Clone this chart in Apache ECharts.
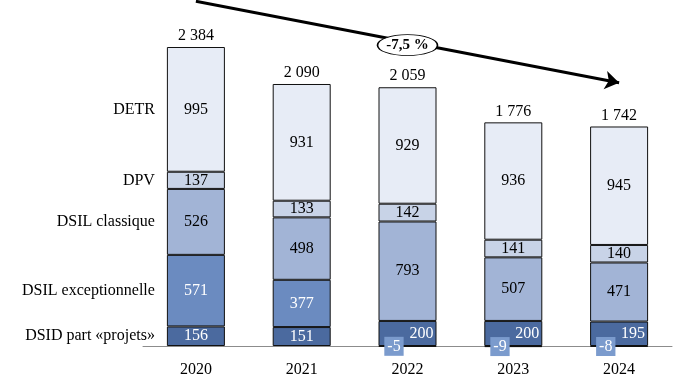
<!DOCTYPE html>
<html><head><meta charset="utf-8">
<script src="https://cdn.jsdelivr.net/npm/echarts@6/dist/echarts.min.js"></script>
<style>html,body{margin:0;padding:0;background:#fff}#c{width:682px;height:392px}</style>
</head><body><div id="c"></div>
<script>
const years = ['2020','2021','2022','2023','2024'];
const seriesNames = ['DSID part «projets»','DSIL exceptionnelle','DSIL classique','DPV','DETR'];
const dsid = [156,151,200,200,195];
const dsilExc = [571,377,-5,-9,-8];
const dsilCla = [526,498,793,507,471];
const dpv = [137,133,142,141,140];
const detr = [995,931,929,936,945];
const totals = [2384,2090,2059,1776,1742];
const trendLabel = '-7,5 %';

const values = [dsid, dsilExc, dsilCla, dpv, detr];
const colors = ['#4b6a9f','#6b8bc0','#a2b4d6','#c8d3e7','#e7ecf6'];
const textColors = ['#fff','#fff','#000','#000','#000'];
const FONT = '"Liberation Serif", "DejaVu Serif", serif';

function fmt(n){ return String(n).replace(/\B(?=(\d{3})+(?!\d))/g,' '); }

const series = [];
values.forEach((arr, si) => {
  series.push({
    name: seriesNames[si], type: 'bar', stack: 'a', barWidth: 58, barGap: '-100%', clip: false,
    itemStyle: { color: colors[si], borderColor: '#111', borderWidth: 1 },
    data: arr.map((v, i) => {
      const item = { value: v };
      if (v < 0) {
        item.label = { show: true, position: 'insideLeft', distance: 6, color: '#fff',
          backgroundColor: '#7b9bcd', padding: [2, 3, 1, 3], formatter: String(v) };
      } else if (si === 0 && dsilExc[i] < 0) {
        item.label = { show: true, position: 'insideRight', distance: 3 };
      }
      return item;
    }),
    label: { show: true, position: 'inside', color: textColors[si], fontFamily: FONT, fontSize: 16 }
  });
});
// totals on top of stack
series.push({
  name: 'total', type: 'bar', stack: 'a', barWidth: 58, barGap: '-100%',
  itemStyle: { color: 'transparent', borderWidth: 0 },
  data: totals.map(() => 0),
  label: { show: true, position: 'top', distance: 3, color: '#000', fontFamily: FONT, fontSize: 16,
    formatter: p => fmt(totals[p.dataIndex]) }
});
// left-side category names, attached to the first year's segments
values.forEach((arr, si) => {
  series.push({
    name: seriesNames[si] + ' (label)', type: 'bar', stack: 'b', barWidth: 58, barGap: '-100%', clip: false,
    itemStyle: { color: 'transparent', borderWidth: 0 }, silent: true,
    data: arr,
    label: { show: true, position: 'left', distance: 12, color: '#000', fontFamily: FONT, fontSize: 16,
      formatter: p => p.dataIndex === 0 ? seriesNames[si] : '' }
  });
});
// trend arrow + ellipse
series.push({
  type: 'line', data: [], silent: true, clip: false,
  markLine: {
    silent: true, symbol: ['none', 'arrow'], symbolSize: 14,
    lineStyle: { color: '#000', width: 3, type: 'solid' },
    label: { show: false },
    data: [[{ coord: ['2020', 2750] }, { coord: ['2024', 2100] }]]
  },
  markPoint: {
    silent: true, symbol: 'circle', symbolSize: [60, 21],
    itemStyle: { color: '#fff', borderColor: '#000', borderWidth: 1 },
    label: { show: true, color: '#000', fontFamily: FONT, fontSize: 15, fontWeight: 'bold', formatter: trendLabel },
    data: [{ coord: ['2022', 2400] }]
  }
});

const chart = echarts.init(document.getElementById('c'), null, { renderer: 'canvas' });
chart.setOption({
  animation: false,
  grid: { left: 143, right: 10, top: 0, bottom: 46, outerBoundsMode: 'none', containLabel: false },
  xAxis: {
    type: 'category', data: years,
    axisLine: { onZero: false, lineStyle: { color: '#8c8c8c', width: 1 } },
    axisTick: { show: false },
    axisLabel: { margin: 16, color: '#000', fontFamily: FONT, fontSize: 16 }
  },
  yAxis: { type: 'value', min: 0, max: 2760, show: false, splitLine: { show: false } },
  series: series
});
</script></body></html>
